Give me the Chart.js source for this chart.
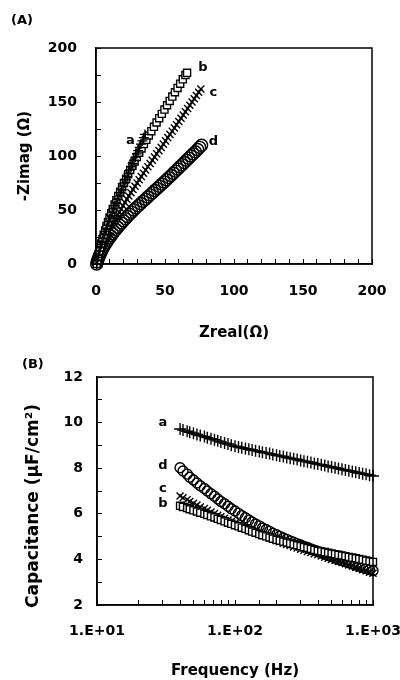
<!DOCTYPE html>
<html>
<head>
<meta charset="utf-8">
<script src="https://cdn.jsdelivr.net/npm/chart.js@4.4.1/dist/chart.umd.min.js"></script>
<style>
  html, body { margin: 0; padding: 0; background: #fff; }
  #wrap { position: relative; width: 400px; height: 680px; }
  .box { position: absolute; left: 0; width: 400px; }
  #boxA { top: 0; height: 345px; }
  #boxB { top: 345px; height: 335px; }
</style>
</head>
<body>
<div id="wrap">
  <div class="box" id="boxA"><canvas id="nyquist" width="400" height="345"></canvas></div>
  <div class="box" id="boxB"><canvas id="capacitance" width="400" height="335"></canvas></div>
</div>
<script>
"use strict";
// ========== DATA ========== //
// (A) Nyquist plot, Zreal / -Zimag in ohm
const aZre = [0.5, 0.9, 1.4, 1.9, 2.4, 3, 3.7, 4.4, 5.1, 5.9, 6.7, 7.5, 8.3, 9.1, 9.9, 10.8, 11.7, 12.6, 13.6, 14.6, 15.6, 16.6, 17.6, 18.6, 19.6, 20.6, 21.6, 22.6, 23.6, 24.6, 25.6, 26.6, 27.6, 28.6, 29.6, 30.6, 31.6, 32.6, 33.6, 34.6, 35.5];
const aZim = [0, 3, 6, 9, 12, 15, 18, 21, 24, 27, 30, 33, 36, 39, 42, 45, 48, 51, 54, 57, 60, 63, 66, 69, 72, 75, 78, 81, 84, 87, 90, 93, 96, 99, 102, 105, 108, 111, 114, 117, 120];
const bZre = [0.5, 1, 1.6, 2.3, 3, 3.8, 4.7, 5.6, 6.6, 7.6, 8.7, 9.8, 11, 12.2, 13.5, 14.8, 16.1, 17.5, 18.9, 20.3, 21.8, 23.3, 24.8, 26.4, 28, 29.6, 31.3, 33, 34.7, 36.5, 38.3, 40.1, 42, 43.9, 45.8, 47.7, 49.6, 51.5, 53.4, 55.3, 57.2, 59.1, 61, 62.9, 64.8, 66];
const bZim = [0, 3, 7, 11, 15, 19, 23, 27, 31, 35, 39, 43, 47, 51, 55, 59, 63, 67, 71, 75, 79, 83, 87, 91, 95, 99, 103, 107, 111, 115, 119, 123, 127, 131, 135, 139, 143, 147, 151, 155, 159, 163, 167, 171, 175, 177];
const cZre = [0.5, 1, 1.6, 2.3, 3.1, 4, 5, 6, 7.1, 8.2, 9.4, 10.6, 11.8, 13, 14.3, 15.6, 16.9, 18.2, 19.6, 21, 22.4, 23.8, 25.3, 26.8, 28.3, 29.8, 31.3, 32.8, 34.4, 36, 37.6, 39.2, 40.8, 42.4, 44, 45.6, 47.2, 48.8, 50.4, 52, 53.6, 55.2, 56.8, 58.4, 60, 61.6, 63.2, 64.8, 66.4, 68, 69.6, 71.2, 72.8, 74.4, 76];
const cZim = [0, 3, 6, 9, 12, 15, 18, 21, 24, 27, 30, 33, 36, 39, 42, 45, 48, 51, 54, 57, 60, 63, 66, 69, 72, 75, 78, 81, 84, 87, 90, 93, 96, 99, 102, 105, 108, 111, 114, 117, 120, 123, 126, 129, 132, 135, 138, 141, 144, 147, 150, 153, 156, 159, 162];
const dZre = [0.5, 0.9, 1.4, 2, 2.6, 3.3, 4, 4.8, 5.7, 6.6, 7.6, 8.6, 9.7, 10.8, 12, 13.2, 14.5, 15.8, 17.1, 18.5, 19.9, 21.3, 22.8, 24.3, 25.8, 27.4, 29, 30.7, 32.4, 34.1, 35.8, 37.5, 39.2, 40.9, 42.6, 44.3, 46, 47.7, 49.4, 51.1, 52.8, 54.4, 56, 57.6, 59.2, 60.8, 62.4, 64, 65.6, 67.2, 68.8, 70.4, 72, 73.6, 75.1, 76.5];
const dZim = [0, 2, 4, 6, 8, 10, 12, 14, 16, 18, 20, 22, 24, 26, 28, 30, 32, 34, 36, 38, 40, 42, 44, 46, 48, 50, 52, 54, 56, 58, 60, 62, 64, 66, 68, 70, 72, 74, 76, 78, 80, 82, 84, 86, 88, 90, 92, 94, 96, 98, 100, 102, 104, 106, 108, 110];

// (B) capacitance (uF/cm2) vs frequency (Hz)
const freqHz = [40, 42, 45, 47, 50, 53, 56, 60, 63, 67, 71, 75, 79, 84, 89, 94, 100, 106, 112, 119, 126, 133, 141, 150, 158, 168, 178, 188, 200, 211, 224, 237, 251, 266, 282, 299, 316, 335, 355, 376, 398, 422, 447, 473, 501, 531, 562, 596, 631, 668, 708, 750, 794, 841, 891, 944, 1000];
const capA = [9.72, 9.67, 9.62, 9.58, 9.53, 9.48, 9.43, 9.39, 9.34, 9.29, 9.25, 9.20, 9.15, 9.10, 9.06, 9.01, 8.96, 8.93, 8.90, 8.86, 8.83, 8.80, 8.77, 8.73, 8.70, 8.67, 8.64, 8.60, 8.57, 8.54, 8.51, 8.47, 8.44, 8.41, 8.38, 8.34, 8.31, 8.28, 8.25, 8.21, 8.18, 8.15, 8.12, 8.08, 8.05, 8.02, 7.99, 7.95, 7.92, 7.89, 7.86, 7.82, 7.79, 7.76, 7.73, 7.69, 7.66];
const capB = [6.35, 6.30, 6.25, 6.20, 6.15, 6.10, 6.05, 6.00, 5.95, 5.89, 5.84, 5.78, 5.73, 5.67, 5.61, 5.56, 5.50, 5.45, 5.39, 5.34, 5.28, 5.22, 5.17, 5.11, 5.06, 5.01, 4.96, 4.91, 4.86, 4.82, 4.78, 4.74, 4.70, 4.66, 4.62, 4.58, 4.54, 4.50, 4.46, 4.42, 4.38, 4.35, 4.32, 4.29, 4.26, 4.23, 4.20, 4.17, 4.14, 4.11, 4.08, 4.05, 4.02, 3.99, 3.95, 3.92, 3.89];
const capC = [6.78, 6.70, 6.62, 6.54, 6.46, 6.38, 6.30, 6.23, 6.15, 6.08, 6.01, 5.94, 5.87, 5.80, 5.73, 5.66, 5.59, 5.52, 5.46, 5.39, 5.33, 5.26, 5.20, 5.13, 5.07, 5.01, 4.95, 4.88, 4.82, 4.77, 4.71, 4.66, 4.61, 4.55, 4.50, 4.45, 4.40, 4.35, 4.30, 4.25, 4.20, 4.15, 4.10, 4.05, 4.00, 3.95, 3.91, 3.86, 3.81, 3.76, 3.71, 3.65, 3.60, 3.55, 3.50, 3.44, 3.39];
const capD = [8.02, 7.88, 7.74, 7.60, 7.48, 7.35, 7.23, 7.11, 7.00, 6.88, 6.77, 6.65, 6.54, 6.44, 6.33, 6.22, 6.12, 6.02, 5.92, 5.83, 5.73, 5.64, 5.55, 5.47, 5.38, 5.31, 5.23, 5.15, 5.08, 5.01, 4.94, 4.88, 4.81, 4.75, 4.69, 4.63, 4.57, 4.52, 4.46, 4.40, 4.34, 4.29, 4.23, 4.17, 4.12, 4.06, 4.00, 3.95, 3.90, 3.85, 3.80, 3.75, 3.70, 3.65, 3.60, 3.55, 3.50];

// curve letters, anchored in data units
const curveNames = ["a", "b", "c", "d"];
const nyqLabelX = [25, 77.5, 85, 85];
const nyqLabelY = [114, 182, 159, 113];
const capLabelX = [30, 30, 30, 30];
const capLabelY = [10, 6.43, 7.09, 8.13];

const FONT = "DejaVu Sans";
Chart.defaults.font.family = FONT;
Chart.defaults.font.weight = "bold";
Chart.defaults.color = "#000";

// ========== HELPERS ========== //
function toPoints(xs, ys) {
  return xs.map((x, i) => ({ x: x, y: ys[i] }));
}

function series(points, style, radius, fill) {
  return {
    data: points,
    showLine: false,
    clip: false,
    pointStyle: style,
    pointRadius: radius,
    pointBorderWidth: 1.4,
    pointBorderColor: "#000",
    pointBackgroundColor: fill,
    borderColor: "#000",
    backgroundColor: fill
  };
}

// frame + curve letters + panel tag (+ optional y title)
const decorPlugin = {
  id: "decor",
  afterDraw(chart, args, opts) {
    const { ctx, chartArea, scales } = chart;
    ctx.save();
    ctx.strokeStyle = "#000";
    ctx.lineWidth = 1.5;
    ctx.strokeRect(chartArea.left, chartArea.top, chartArea.right - chartArea.left, chartArea.bottom - chartArea.top);
    ctx.fillStyle = "#000";
    ctx.font = "bold 13px '" + FONT + "'";
    ctx.textAlign = "center";
    ctx.textBaseline = "middle";
    opts.names.forEach((n, i) => {
      ctx.fillText(n, scales.x.getPixelForValue(opts.xs[i]), scales.y.getPixelForValue(opts.ys[i]));
    });
    ctx.textAlign = "left";
    ctx.fillText(opts.tag, opts.tagX, opts.tagY);
    if (opts.yTitle) {
      ctx.translate(opts.yTitleX, opts.yTitleY);
      ctx.rotate(-Math.PI / 2);
      ctx.textAlign = "center";
      ctx.font = "bold 17px '" + FONT + "'";
      ctx.fillText(opts.yTitle, 0, 0);
    }
    ctx.restore();
  }
};

function axisTicks(step, labelEvery, pad) {
  return {
    stepSize: step,
    autoSkip: false,
    maxRotation: 0,
    padding: pad,
    font: { size: 14, weight: "bold" },
    callback: v => (Math.abs(v / labelEvery - Math.round(v / labelEvery)) < 1e-9 ? String(v) : "")
  };
}

const innerGrid = { drawOnChartArea: false, drawTicks: true, tickLength: -5, color: "#000", lineWidth: 1 };

function fitX(h) {
  return s => { s.height = h; s.paddingLeft = 0; s.paddingRight = 0; };
}
function fitY(w) {
  return s => { s.width = w; s.paddingTop = 0; s.paddingBottom = 0; };
}

// ========== (A) NYQUIST ========== //
function appendNyquist() {
  new Chart(document.querySelector("#nyquist"), {
    type: "scatter",
    data: {
      datasets: [
        series(toPoints(aZre, aZim), "cross", 5, "rgba(0,0,0,0)"),
        series(toPoints(bZre, bZim), "rect", 5, "#fff"),
        series(toPoints(cZre, cZim), "crossRot", 5, "rgba(0,0,0,0)"),
        series(toPoints(dZre, dZim), "circle", 6, "rgba(0,0,0,0)")
      ]
    },
    options: {
      responsive: false,
      animation: false,
      layout: { padding: { top: 48, right: 28, left: 0, bottom: 0 } },
      plugins: {
        legend: { display: false },
        tooltip: { enabled: false },
        decor: { names: curveNames, xs: nyqLabelX, ys: nyqLabelY, tag: "(A)", tagX: 11, tagY: 21 }
      },
      scales: {
        x: {
          type: "linear", min: 0, max: 200,
          afterFit: fitX(81),
          border: { color: "#000", width: 1.5 },
          grid: innerGrid,
          ticks: axisTicks(10, 50, 24),
          title: { display: true, text: "Zreal(Ω)", font: { size: 15, weight: "bold" }, padding: { top: 0, bottom: 3 } }
        },
        y: {
          type: "linear", min: 0, max: 200,
          afterFit: fitY(96),
          border: { color: "#000", width: 1.5 },
          grid: innerGrid,
          ticks: axisTicks(25, 50, 24),
          title: { display: true, text: "-Zimag (Ω)", font: { size: 15, weight: "bold" }, padding: { top: 16, bottom: 0 } }
        }
      }
    },
    plugins: [decorPlugin]
  });
}

// ========== (B) CAPACITANCE ========== //
function appendCapacitance() {
  new Chart(document.querySelector("#capacitance"), {
    type: "scatter",
    data: {
      datasets: [
        series(toPoints(freqHz, capA), "cross", 6, "rgba(0,0,0,0)"),
        series(toPoints(freqHz, capB), "rect", 5, "#fff"),
        series(toPoints(freqHz, capC), "crossRot", 5, "rgba(0,0,0,0)"),
        series(toPoints(freqHz, capD), "circle", 5, "rgba(0,0,0,0)")
      ]
    },
    options: {
      responsive: false,
      animation: false,
      layout: { padding: { top: 32, right: 27, left: 0, bottom: 0 } },
      plugins: {
        legend: { display: false },
        tooltip: { enabled: false },
        decor: {
          names: curveNames, xs: capLabelX, ys: capLabelY, tag: "(B)", tagX: 22, tagY: 20,
          yTitle: "Capacitance (μF/cm²)", yTitleX: 34, yTitleY: 161
        }
      },
      scales: {
        x: {
          type: "logarithmic", min: 10, max: 1000,
          afterFit: fitX(75),
          border: { color: "#000", width: 1.5 },
          grid: innerGrid,
          ticks: {
            autoSkip: false,
            maxRotation: 0,
            padding: 23,
            font: { size: 14, weight: "bold" },
            callback: v => {
              const e = Math.log10(v);
              return Math.abs(e - Math.round(e)) < 1e-9 ? "1.E+" + String(Math.round(e)).padStart(2, "0") : "";
            }
          },
          title: { display: true, text: "Frequency (Hz)", font: { size: 15, weight: "bold" }, padding: { top: 0, bottom: 0 } }
        },
        y: {
          type: "linear", min: 2, max: 12,
          afterFit: fitY(97),
          border: { color: "#000", width: 1.5 },
          grid: innerGrid,
          ticks: axisTicks(1, 2, 19),
          title: { display: false }
        }
      }
    },
    plugins: [decorPlugin]
  });
}

appendNyquist();
appendCapacitance();
</script>
</body>
</html>
